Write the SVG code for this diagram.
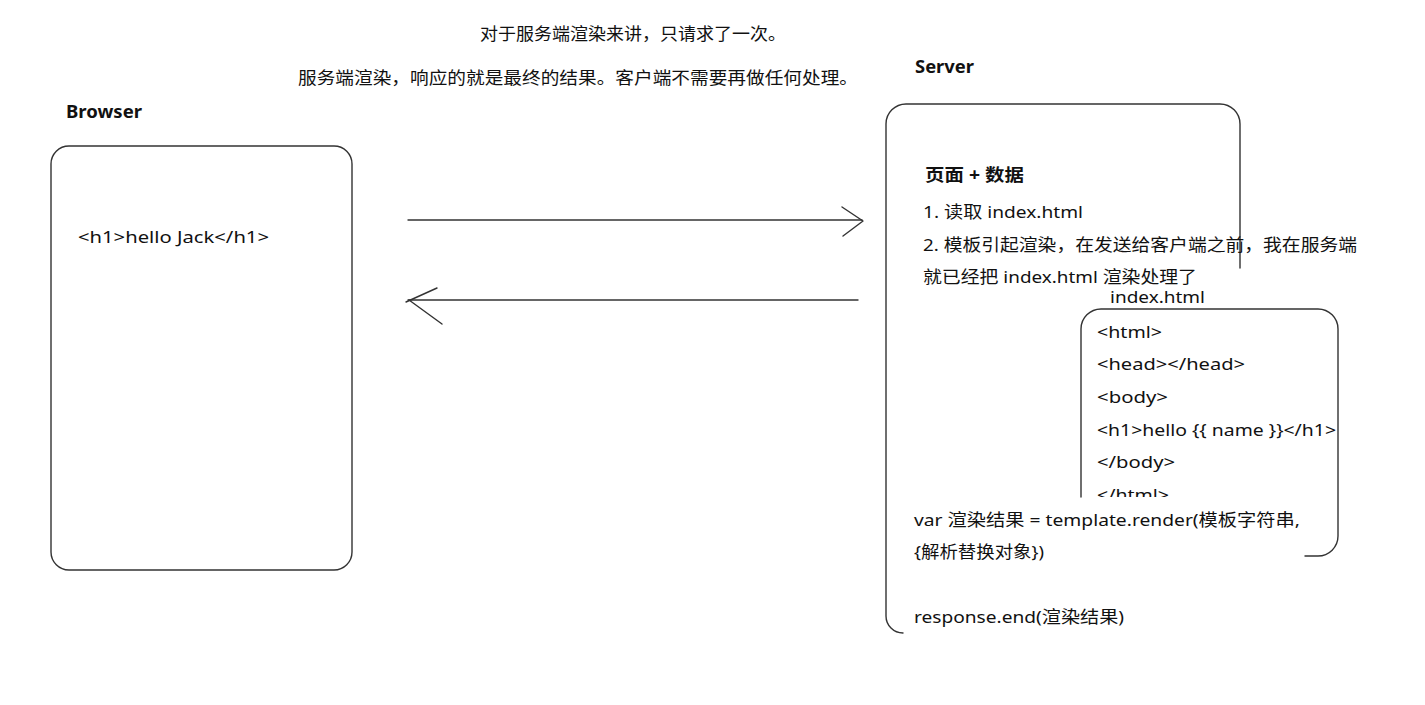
<svg xmlns="http://www.w3.org/2000/svg" width="1425" height="705" viewBox="0 0 1425 705">
<defs>
<style>
.t{font-family:"Noto Sans","Noto Sans CJK SC",sans-serif;font-size:17px;fill:#111;}
.b{font-weight:bold;}
.ln{fill:none;stroke:#333;stroke-width:1.4;stroke-linecap:round;stroke-linejoin:round;}
</style>
<clipPath id="clipHtml"><rect x="1085" y="300" width="260" height="197"/></clipPath>
</defs>
<rect width="1425" height="705" fill="#fff"/>
<g id="notes">
<text class="t" x="480" y="40" textLength="306" lengthAdjust="spacingAndGlyphs">对于服务端渲染来讲，只请求了一次。</text>
<text class="t" x="298" y="84" textLength="560" lengthAdjust="spacingAndGlyphs">服务端渲染，响应的就是最终的结果。客户端不需要再做任何处理。</text>
</g>
<g id="browser">
<text class="t b" x="66" y="118" textLength="76" lengthAdjust="spacingAndGlyphs">Browser</text>
<rect class="ln" x="51" y="146" width="301" height="424" rx="18" ry="18"/>
<text class="t" x="78" y="243" textLength="191" lengthAdjust="spacingAndGlyphs">&lt;h1&gt;hello Jack&lt;/h1&gt;</text>
</g>
<g id="server">
<text class="t b" x="915" y="73" textLength="59" lengthAdjust="spacingAndGlyphs">Server</text>
<path class="ln" d="M1240 268 L1240 124 A20 20 0 0 0 1220 104 L906 104 A20 20 0 0 0 886 124 L886 616 A17 17 0 0 0 903 633"/>
<text class="t b" x="925" y="181" textLength="99" lengthAdjust="spacingAndGlyphs">页面 + 数据</text>
<text class="t" x="923" y="218" textLength="160" lengthAdjust="spacingAndGlyphs">1. 读取 index.html</text>
<text class="t" x="923" y="251" textLength="434" lengthAdjust="spacingAndGlyphs">2. 模板引起渲染，在发送给客户端之前，我在服务端</text>
<text class="t" x="923" y="283" textLength="274" lengthAdjust="spacingAndGlyphs">就已经把 index.html 渲染处理了</text>
<text class="t" x="914" y="526" textLength="386" lengthAdjust="spacingAndGlyphs">var 渲染结果 = template.render(模板字符串,</text>
<text class="t" x="914" y="558" textLength="130" lengthAdjust="spacingAndGlyphs">{解析替换对象})</text>
<text class="t" x="914" y="623" textLength="210" lengthAdjust="spacingAndGlyphs">response.end(渲染结果)</text>
</g>
<g id="index-html">
<text class="t" x="1110" y="303" textLength="95" lengthAdjust="spacingAndGlyphs">index.html</text>
<path class="ln" d="M1081 497 L1081 329 A20 20 0 0 1 1101 309 L1318 309 A20 20 0 0 1 1338 329 L1338 536 A20 20 0 0 1 1318 556 L1305 556"/>
<text class="t" x="1097" y="338" textLength="65" lengthAdjust="spacingAndGlyphs">&lt;html&gt;</text>
<text class="t" x="1097" y="370" textLength="148" lengthAdjust="spacingAndGlyphs">&lt;head&gt;&lt;/head&gt;</text>
<text class="t" x="1097" y="403" textLength="71" lengthAdjust="spacingAndGlyphs">&lt;body&gt;</text>
<text class="t" x="1097" y="436" textLength="239" lengthAdjust="spacingAndGlyphs">&lt;h1&gt;hello {{ name }}&lt;/h1&gt;</text>
<text class="t" x="1097" y="468" textLength="78" lengthAdjust="spacingAndGlyphs">&lt;/body&gt;</text>
<text class="t" x="1097" y="501" textLength="72" lengthAdjust="spacingAndGlyphs" clip-path="url(#clipHtml)">&lt;/html&gt;</text>
</g>
<g id="connectors">
<path class="ln" d="M408 220 L862 220"/>
<path class="ln" d="M842 207 L863 221 L843 236"/>
<path class="ln" d="M858 300 L408 300"/>
<path class="ln" d="M437 288 L406 302"/>
<path class="ln" d="M409 300 L442 324"/>
</g>
</svg>
